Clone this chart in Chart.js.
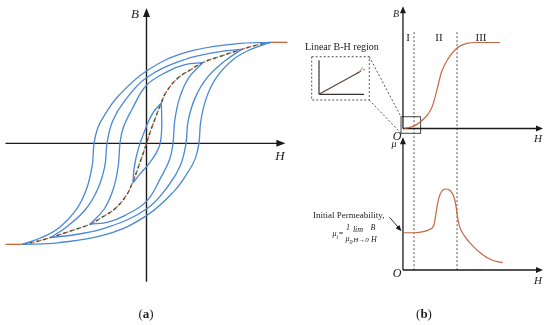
<!DOCTYPE html>
<html>
<head>
<meta charset="utf-8">
<script src="https://cdn.jsdelivr.net/npm/chart.js@4.4.0/dist/chart.umd.min.js"></script>
<style>
  body { margin: 0; width: 550px; height: 325px; background: #fff; position: relative; overflow: hidden;
         font-family: "Liberation Serif", "DejaVu Serif", serif; color: #222; }
  canvas { position: absolute; }
  .t { position: absolute; white-space: nowrap; line-height: 1; transform: translate(-50%, -50%); }
  .l { position: absolute; white-space: nowrap; line-height: 1; }
  .i { font-style: italic; }
</style>
</head>
<body>
<canvas id="chartA" width="292" height="290" style="left:0;top:0"></canvas>
<canvas id="chartB" width="255" height="290" style="left:295px;top:0"></canvas>

<!-- panel (a) labels -->
<span class="t i" style="left:135px;top:13px;font-size:13px">B</span>
<span class="t i" style="left:280px;top:155px;font-size:13px">H</span>
<span class="t" style="left:146px;top:313px;font-size:13px">(<b>a</b>)</span>

<!-- panel (b) labels -->
<span class="t i" style="left:396px;top:14px;font-size:10px">B</span>
<span class="t" style="left:408px;top:37px;font-size:11px">I</span>
<span class="t" style="left:439px;top:37px;font-size:11px">II</span>
<span class="t" style="left:481px;top:37px;font-size:11px">III</span>
<span class="l" style="left:305px;top:42px;font-size:10px">Linear B-H region</span>
<span class="t i" style="left:397px;top:136px;font-size:12px">O</span>
<span class="t i" style="left:538px;top:138px;font-size:11px">H</span>
<span class="t i" style="left:394px;top:144px;font-size:10px">μ</span>
<span class="t i" style="left:397px;top:273px;font-size:12px">O</span>
<span class="t i" style="left:538px;top:280px;font-size:11px">H</span>
<span class="l" style="left:313px;top:211px;font-size:9px">Initial Permeability,</span>
<span class="t i" style="left:338px;top:235px;font-size:8px">μ<sub style="font-size:6px">i</sub>=</span>
<span class="t i" style="left:348px;top:228px;font-size:8px">1</span>
<span class="t i" style="left:349px;top:240px;font-size:8px">μ<sub style="font-size:6px">0</sub></span>
<span class="t i" style="left:358px;top:230px;font-size:8px">lim</span>
<span class="t i" style="left:361px;top:240px;font-size:7px">H→0</span>
<span class="t i" style="left:373px;top:228px;font-size:8px">B</span>
<span class="t i" style="left:374px;top:240px;font-size:8px">H</span>
<span class="t" style="left:424px;top:313px;font-size:13px">(<b>b</b>)</span>

<script>
// ---------- panel (a): hysteresis loops, [H, B] in relative units ----------
const loop1Down = [[0.88,1.00],[0.63,0.985],[0.273,0.897],[0,0.716],[-0.20,0.468],[-0.294,0.286],[-0.345,0.154],[-0.372,0],[-0.385,-0.22],[-0.425,-0.45],[-0.495,-0.65],[-0.615,-0.83],[-0.74,-0.93],[-0.88,-1.00]];
const loop1Up   = [[-0.88,-1.00],[-0.63,-0.985],[-0.273,-0.897],[0,-0.716],[0.20,-0.468],[0.294,-0.286],[0.345,-0.154],[0.372,0],[0.385,0.22],[0.425,0.45],[0.495,0.65],[0.615,0.83],[0.74,0.93],[0.88,1.00]];
const loop2Down = [[0.675,0.93],[0.51,0.905],[0.273,0.83],[0,0.65],[-0.155,0.42],[-0.24,0.22],[-0.28,0],[-0.295,-0.22],[-0.345,-0.45],[-0.43,-0.65],[-0.56,-0.82],[-0.675,-0.93]];
const loop2Up   = [[-0.675,-0.93],[-0.51,-0.905],[-0.273,-0.83],[0,-0.65],[0.155,-0.42],[0.24,-0.22],[0.28,0],[0.295,0.22],[0.345,0.45],[0.43,0.65],[0.56,0.82],[0.675,0.93]];
const loop3Down = [[0.40,0.80],[0.273,0.78],[0.155,0.715],[0,0.575],[-0.105,0.33],[-0.165,0.155],[-0.188,0],[-0.20,-0.22],[-0.235,-0.45],[-0.30,-0.65],[-0.40,-0.80]];
const loop3Up   = [[-0.40,-0.80],[-0.273,-0.78],[-0.155,-0.715],[0,-0.575],[0.105,-0.33],[0.165,-0.155],[0.188,0],[0.20,0.22],[0.235,0.45],[0.30,0.65],[0.40,0.80]];
const loop4Down = [[0.105,0.40],[0.06,0.33],[0.025,0.25],[0,0.17],[-0.03,0.06],[-0.055,-0.04],[-0.075,-0.15],[-0.09,-0.27],[-0.095,-0.39]];
const loop4Up   = [[-0.095,-0.39],[-0.05,-0.31],[0,-0.23],[0.04,-0.16],[0.075,-0.08],[0.097,0],[0.107,0.12],[0.108,0.26],[0.105,0.40]];
const initialCurve = [[-0.88,-1.00],[-0.79,-0.975],[-0.675,-0.93],[-0.51,-0.855],[-0.40,-0.80],[-0.32,-0.735],[-0.226,-0.65],[-0.143,-0.515],[-0.10,-0.39],[-0.037,-0.154],[0,0],[0.037,0.154],[0.105,0.40],[0.143,0.515],[0.226,0.65],[0.32,0.735],[0.40,0.80],[0.51,0.855],[0.675,0.93],[0.79,0.975],[0.88,1.00]];
const saturationHigh = [[0.88,1.00],[1.00,1.00]];
const saturationLow  = [[-1.00,-1.00],[-0.88,-1.00]];
const axisAH = [-1.0, 0.985];
const axisAB = [-1.37, 1.34];

// ---------- panel (b): B-H curve and permeability ----------
const bhCurve = [[0.01,0],[0.074,0.025],[0.134,0.09],[0.18,0.17],[0.21,0.26],[0.241,0.44],[0.276,0.66],[0.324,0.816],[0.384,0.933],[0.455,0.99],[0.526,1.0],[0.693,1.0]];
const muCurve = [[0,0.46],[0.086,0.46],[0.145,0.473],[0.193,0.502],[0.221,0.556],[0.236,0.70],[0.248,0.83],[0.264,0.93],[0.288,0.99],[0.312,1.0],[0.34,0.975],[0.362,0.91],[0.376,0.82],[0.386,0.70],[0.395,0.60],[0.41,0.51],[0.443,0.411],[0.491,0.309],[0.562,0.198],[0.634,0.123],[0.712,0.09]];
const regionBounds = [0.079, 0.386];
const insetLine = [[0,0],[0.90,0.655]];
const insetBend = [[0.82,0.60],[0.90,0.675],[0.97,0.79]];
const insetExtension = [[0.90,0.655],[1.04,0.75]];
const zoomBoxH = [-0.014, 0.126], zoomBoxB = [-0.056, 0.137];
const insetBoxX = [-0.162, 1.118], insetBoxY = [-0.168, 1.106];

const pts = arr => arr.map(p => ({x: p[0], y: p[1]}));
const blue = '#4a88d6', brown = '#c8663e';

function arrowHead(ctx, x, y, dx, dy, len, w) {
  const n = Math.hypot(dx, dy), ux = dx / n, uy = dy / n;
  ctx.beginPath();
  ctx.moveTo(x, y);
  ctx.lineTo(x - ux * len - uy * w, y - uy * len + ux * w);
  ctx.lineTo(x - ux * len + uy * w, y - uy * len - ux * w);
  ctx.closePath();
  ctx.fill();
}
function seg(ctx, x1, y1, x2, y2) {
  ctx.beginPath(); ctx.moveTo(x1, y1); ctx.lineTo(x2, y2); ctx.stroke();
}

const axesA = {
  id: 'axesA',
  beforeDatasetsDraw(chart) {
    const {ctx, scales: {x, y}} = chart;
    ctx.save();
    ctx.strokeStyle = '#1a1a1a'; ctx.fillStyle = '#1a1a1a'; ctx.lineWidth = 1.4;
    const x0 = x.getPixelForValue(0), y0 = y.getPixelForValue(0);
    const xr = x.getPixelForValue(axisAH[1]), yt = y.getPixelForValue(axisAB[1]);
    seg(ctx, x.getPixelForValue(axisAH[0]), y0, xr - 4, y0);
    seg(ctx, x0, y.getPixelForValue(axisAB[0]), x0, yt + 4);
    arrowHead(ctx, xr, y0, 1, 0, 9, 3.5);
    arrowHead(ctx, x0, yt, 0, -1, 9, 3.5);
    ctx.restore();
  }
};

const lineDs = (data, color, extra) => Object.assign({
  data: pts(data), showLine: true, borderColor: color, borderWidth: 1.3,
  pointRadius: 0, tension: 0.4, fill: false
}, extra || {});

new Chart(document.getElementById('chartA'), {
  type: 'scatter',
  data: {
    datasets: [
      lineDs(loop1Down, blue), lineDs(loop1Up, blue),
      lineDs(loop2Down, blue), lineDs(loop2Up, blue),
      lineDs(loop3Down, blue), lineDs(loop3Up, blue),
      lineDs(loop4Down, blue), lineDs(loop4Up, blue),
      lineDs(saturationHigh, brown, {tension: 0}), lineDs(saturationLow, brown, {tension: 0}),
      lineDs(initialCurve, '#cc5540', {borderDash: [2, 5], borderDashOffset: 3.5, borderWidth: 1.3}),
      lineDs(initialCurve, '#3f5a30', {borderDash: [3.5, 3.5], borderWidth: 1.5})
    ]
  },
  options: {
    responsive: false, animation: false,
    layout: {padding: 0},
    plugins: {legend: {display: false}, tooltip: {enabled: false}},
    scales: {
      x: {type: 'linear', min: -1.039, max: 1.032, display: false},
      y: {type: 'linear', min: -1.452, max: 1.419, display: false}
    }
  },
  plugins: [axesA]
});

const decorB = {
  id: 'decorB',
  beforeDatasetsDraw(chart) {
    const {ctx, scales: {x, yB, yMu, xI, yI}} = chart;
    ctx.save();
    // region boundaries
    ctx.strokeStyle = '#555'; ctx.lineWidth = 1; ctx.setLineDash([2, 2]);
    regionBounds.forEach(h => seg(ctx, x.getPixelForValue(h), yB.getPixelForValue(1.12), x.getPixelForValue(h), yMu.getPixelForValue(0)));
    // inset box and connectors
    const bx1 = xI.getPixelForValue(insetBoxX[0]), bx2 = xI.getPixelForValue(insetBoxX[1]);
    const by1 = yI.getPixelForValue(insetBoxY[1]), by2 = yI.getPixelForValue(insetBoxY[0]);
    ctx.strokeRect(bx1, by1, bx2 - bx1, by2 - by1);
    const zx1 = x.getPixelForValue(zoomBoxH[0]), zx2 = x.getPixelForValue(zoomBoxH[1]);
    const zy1 = yB.getPixelForValue(zoomBoxB[1]), zy2 = yB.getPixelForValue(zoomBoxB[0]);
    seg(ctx, bx2, by1, zx1, zy1);
    seg(ctx, bx2, by2, zx1, zy2);
    ctx.setLineDash([]);
    ctx.strokeStyle = '#444';
    ctx.strokeRect(zx1, zy1, zx2 - zx1, zy2 - zy1);
    // axes
    ctx.strokeStyle = '#1a1a1a'; ctx.fillStyle = '#1a1a1a'; ctx.lineWidth = 1.3;
    const x0 = x.getPixelForValue(0), xr = x.getPixelForValue(1.0);
    const yb0 = yB.getPixelForValue(0), ybt = yB.getPixelForValue(1.42);
    const ym0 = yMu.getPixelForValue(0), ymt = yMu.getPixelForValue(1.64);
    seg(ctx, x0, yb0, xr - 4, yb0); arrowHead(ctx, xr, yb0, 1, 0, 7, 3);
    seg(ctx, x0, yb0, x0, ybt + 4); arrowHead(ctx, x0, ybt, 0, -1, 7, 3);
    seg(ctx, x0, ym0, xr - 4, ym0); arrowHead(ctx, xr, ym0, 1, 0, 7, 3);
    seg(ctx, x0, ym0, x0, ymt + 4); arrowHead(ctx, x0, ymt, 0, -1, 7, 3);
    // inset axes
    ctx.strokeStyle = '#333'; ctx.lineWidth = 1.2;
    const ix0 = xI.getPixelForValue(0), iy0 = yI.getPixelForValue(0);
    seg(ctx, ix0, yI.getPixelForValue(1.0), ix0, iy0);
    seg(ctx, ix0, iy0, xI.getPixelForValue(1.0), iy0);
    // arrow to initial permeability
    const ax = x.getPixelForValue(muCurve[0][0]) - 1.5, ay = yMu.getPixelForValue(muCurve[0][1]) - 1.5;
    ctx.lineWidth = 1;
    seg(ctx, ax - 12, ay - 14, ax - 2, ay - 2.5);
    arrowHead(ctx, ax, ay, 12, 14, 6, 2.5);
    ctx.restore();
  }
};

new Chart(document.getElementById('chartB'), {
  type: 'scatter',
  data: {
    datasets: [
      lineDs(bhCurve, brown, {xAxisID: 'x', yAxisID: 'yB', cubicInterpolationMode: 'monotone', borderWidth: 1.2}),
      lineDs(muCurve, brown, {xAxisID: 'x', yAxisID: 'yMu', cubicInterpolationMode: 'monotone', borderWidth: 1.2}),
      lineDs(insetLine, '#5a4038', {xAxisID: 'xI', yAxisID: 'yI', tension: 0, borderWidth: 1.2}),
      lineDs(insetBend, brown, {xAxisID: 'xI', yAxisID: 'yI', borderWidth: 1}),
      lineDs(insetExtension, '#777', {xAxisID: 'xI', yAxisID: 'yI', tension: 0, borderWidth: 1, borderDash: [2, 2]})
    ]
  },
  options: {
    responsive: false, animation: false,
    layout: {padding: 0},
    plugins: {legend: {display: false}, tooltip: {enabled: false}},
    scales: {
      x:   {type: 'linear', min: -0.771, max: 1.05, display: false},
      yB:  {type: 'linear', position: 'left', min: -1.878, max: 1.494, display: false},
      yMu: {type: 'linear', position: 'left', min: -0.247, max: 3.333, display: false},
      xI:  {type: 'linear', position: 'bottom', min: -0.533, max: 5.133, display: false},
      yI:  {type: 'linear', position: 'left', min: -5.756, max: 2.774, display: false}
    }
  },
  plugins: [decorB]
});
</script>
</body>
</html>
